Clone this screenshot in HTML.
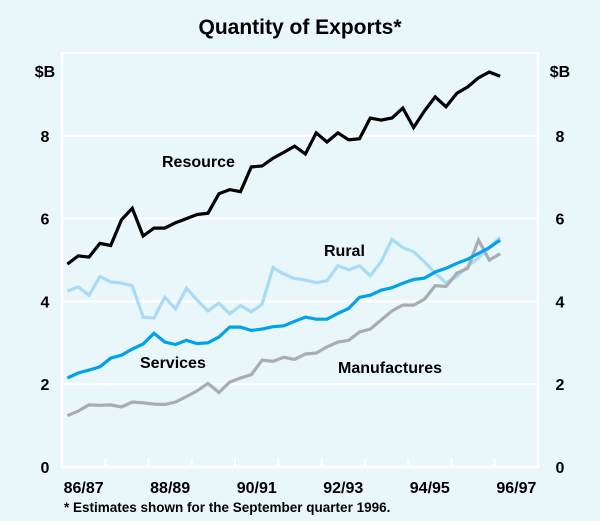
<!DOCTYPE html>
<html><head><meta charset="utf-8"><style>
body{margin:0;background:#e9f6fa;}
svg{display:block;font-family:"Liberation Sans",Arial,sans-serif;}
</style></head><body>
<svg width="600" height="521" viewBox="0 0 600 521">
<rect width="600" height="521" fill="#e9f6fa"/>
<text x="300" y="34" text-anchor="middle" font-size="21" font-weight="bold">Quantity of Exports*</text>
<g id="grid"></g>
<g id="series"></g>
<g id="labels" font-weight="bold"></g>
<g font-weight="bold">
<text x="45" y="77" text-anchor="middle" font-size="16">$B</text>
<text x="560" y="77" text-anchor="middle" font-size="16">$B</text>
<text x="162" y="167" font-size="16">Resource</text>
<text x="324" y="256" font-size="16">Rural</text>
<text x="140" y="368" font-size="16">Services</text>
<text x="338" y="373" font-size="16">Manufactures</text>
<text x="64" y="512" font-size="13.5">*   Estimates shown for the September quarter 1996.</text>
</g>
</svg>
<script>
const yTicks=[0,2,4,6,8];
const yearLabels=["86/87","88/89","90/91","92/93","94/95","96/97"];
const resource=[4.9,5.1,5.07,5.4,5.35,5.97,6.25,5.58,5.77,5.77,5.9,6.0,6.1,6.13,6.6,6.7,6.65,7.25,7.27,7.46,7.6,7.75,7.56,8.07,7.85,8.07,7.9,7.93,8.43,8.38,8.43,8.67,8.2,8.6,8.94,8.7,9.03,9.18,9.4,9.54,9.44];
const rural=[4.25,4.35,4.15,4.6,4.47,4.44,4.38,3.62,3.6,4.1,3.82,4.32,4.03,3.77,3.96,3.7,3.9,3.75,3.93,4.82,4.66,4.55,4.52,4.45,4.5,4.86,4.76,4.86,4.62,4.96,5.5,5.3,5.2,4.96,4.68,4.45,4.6,4.85,5.05,5.3,5.55];
const services=[2.15,2.27,2.34,2.42,2.63,2.7,2.85,2.97,3.23,3.02,2.96,3.06,2.98,3.0,3.14,3.38,3.38,3.3,3.33,3.39,3.41,3.52,3.62,3.57,3.57,3.71,3.83,4.1,4.15,4.27,4.33,4.44,4.53,4.56,4.71,4.8,4.92,5.02,5.16,5.3,5.48];
const manufactures=[1.24,1.35,1.5,1.49,1.5,1.45,1.57,1.55,1.52,1.51,1.57,1.7,1.84,2.02,1.8,2.05,2.15,2.23,2.58,2.55,2.65,2.6,2.73,2.75,2.9,3.02,3.06,3.26,3.33,3.55,3.77,3.91,3.91,4.05,4.38,4.36,4.68,4.8,5.48,5.0,5.15];
const NS="http://www.w3.org/2000/svg";
const L=62,R=538,T=53,B=467,yearW=(R-L)/11;
function yScale(v){return B-(B-T)*v/10;}
function xScale(i){return L+yearW*(i+0.5)/4;}
function mk(tag,attrs,parent){const e=document.createElementNS(NS,tag);for(const k in attrs)e.setAttribute(k,attrs[k]);parent.appendChild(e);return e;}
const grid=document.getElementById('grid'),ser=document.getElementById('series'),lab=document.getElementById('labels');
const frame=mk('rect',{x:L,y:T,width:R-L,height:B-T,fill:'none',stroke:'#fff','stroke-width':2.5},grid);


yTicks.forEach(v=>{
  const g=mk('line',{x1:L,x2:R,y1:yScale(v),y2:yScale(v),stroke:'#fff','stroke-width':2.5},grid);
  
  
  const t1=mk('text',{x:45,y:yScale(v)+6,'text-anchor':'middle','font-size':16},lab);t1.textContent=v;
  
  
  const t2=mk('text',{x:560,y:yScale(v)+6,'text-anchor':'middle','font-size':16},lab);t2.textContent=v;
  
  
});
for(let k=1;k<11;k++){
  const x=L+yearW*k;
  const tk=mk('line',{x1:x,x2:x,y1:B-9,y2:B,stroke:'#fff','stroke-width':2},grid);
  
  
}
yearLabels.forEach((s,j)=>{
  const t=mk('text',{x:L+yearW*(2*j+0.5),y:B+26,'text-anchor':'middle','font-size':16},lab);t.textContent=s;
  
  
});
function line(data,color,name){
  const d=data.map((v,i)=>(i?'L':'M')+xScale(i).toFixed(1)+' '+yScale(v).toFixed(1)).join(' ');
  const p=mk('path',{d:d,fill:'none',stroke:color,'stroke-width':3.2,'stroke-linejoin':'miter'},ser);
  
  
}
line(rural,'#a8dcf6','rural-line');
line(manufactures,'#a9adb1','manufactures-line');
line(services,'#00a3e8','services-line');
line(resource,'#000','resource-line');
</script>
</body></html>
